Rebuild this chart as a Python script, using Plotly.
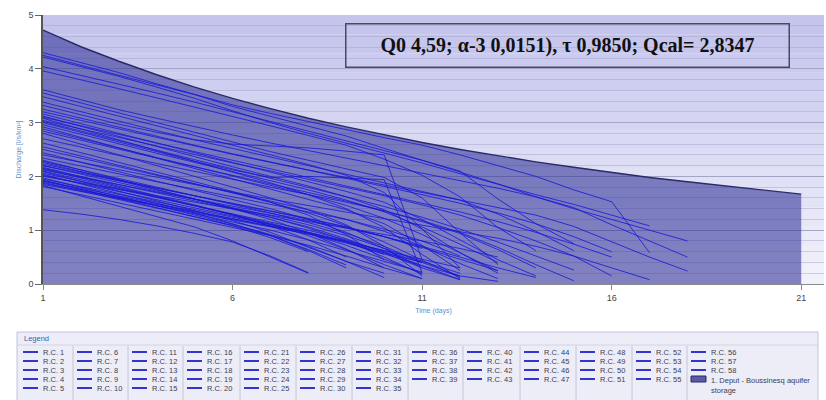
import plotly.graph_objects as go

# ---------------- data ----------------
days = [1, 2, 3, 4, 5, 6, 7, 8, 9, 10, 11, 12, 13, 14, 15, 16, 17, 18, 19, 20, 21]
boussinesq = [4.72, 4.41, 4.14, 3.89, 3.66, 3.45, 3.26, 3.08, 2.92, 2.77, 2.63,
              2.50, 2.38, 2.27, 2.17, 2.07, 1.98, 1.90, 1.82, 1.74, 1.67]

rc01 = [4.30, 4.12, 3.93, 3.72, 3.52, 3.33, 3.17, 3.02, 2.86, 2.72, 2.58, 2.40, 2.20, 2.00, 1.75, 1.53, 0.58]
rc02 = [4.25, 4.06, 3.88, 3.70, 3.52, 3.30, 3.12, 2.93, 2.75, 2.52, 2.30, 2.08, 1.86, 1.62, 1.40, 1.20, 1.00, 0.80]
rc03 = [4.22, 4.04, 3.86, 3.66, 3.45, 3.22, 3.00, 2.80, 2.62, 2.44, 2.25, 2.05, 1.85, 1.66, 1.48, 1.28, 1.08]
rc04 = [4.04, 3.88, 3.72, 3.55, 3.38, 3.20, 3.02, 2.84, 2.66, 2.48, 2.30, 2.10, 1.58, 1.12, 0.75]
rc05 = [3.96, 3.80, 3.63, 3.46, 3.29, 3.12, 2.94, 2.76, 2.58, 2.32, 2.02, 1.62, 1.05, 0.62]
rc06 = [3.61, 3.42, 3.24, 3.08, 2.92, 2.77, 2.62, 2.48, 2.34, 2.20, 2.06, 1.92, 1.78, 1.62, 1.42, 1.10, 0.80, 0.50]
rc07 = [3.55, 3.36, 3.18, 3.00, 2.82, 2.64, 2.46, 2.30, 2.14, 1.98, 1.60, 0.95, 0.36]
rc08 = [3.48, 3.30, 3.12, 2.94, 2.76, 2.58, 2.40, 2.22, 2.02, 1.70, 1.02, 0.30]
rc09 = [3.38, 3.20, 3.02, 2.85, 2.68, 2.52, 2.36, 2.20, 2.04, 1.88, 1.72, 1.56, 1.30, 0.98, 0.62]
rc10 = [3.32, 3.14, 2.97, 2.82, 2.68, 2.60, 2.56, 2.53, 2.47, 2.40, 0.45]
rc11 = [3.20, 3.04, 2.88, 2.72, 2.56, 2.41, 2.26, 2.12, 1.98, 1.84, 1.70, 1.56, 1.42, 1.28, 1.07, 0.78, 0.50, 0.24]
rc12 = [3.16, 2.98, 2.80, 2.62, 2.44, 2.26, 2.08, 1.90, 1.72, 1.52, 1.20, 0.82, 0.45, 0.15]
rc13 = [3.12, 2.93, 2.74, 2.55, 2.36, 2.18, 2.00, 1.82, 1.62, 1.38, 1.02, 0.58, 0.20]
rc14 = [3.08, 2.88, 2.68, 2.48, 2.28, 2.08, 1.88, 1.66, 1.40, 1.05, 0.55, 0.10]
rc15 = [3.04, 2.88, 2.72, 2.56, 2.40, 2.25, 2.10, 1.95, 1.80, 1.64, 1.47, 1.28, 1.05, 0.80, 0.52, 0.15]
rc16 = [3.00, 2.82, 2.64, 2.46, 2.28, 2.12, 1.98, 2.00, 1.97, 1.94, 0.21]
rc17 = [2.96, 2.78, 2.60, 2.43, 2.26, 2.09, 1.92, 1.75, 1.56, 1.34, 1.06, 0.74, 0.40]
rc18 = [2.92, 2.72, 2.53, 2.34, 2.15, 1.96, 1.77, 1.58, 1.38, 1.12, 0.72, 0.25]
rc19 = [2.84, 2.67, 2.50, 2.34, 2.18, 2.02, 1.86, 1.70, 1.54, 1.36, 1.16, 0.94, 0.64, 0.30]
rc20 = [2.80, 2.60, 2.40, 2.20, 2.00, 1.80, 1.60, 1.38, 1.10, 0.70, 0.15]
rc21 = [2.70, 2.54, 2.39, 2.24, 2.09, 1.94, 1.80, 1.66, 1.52, 1.36, 1.18, 0.96, 0.68, 0.36, 0.06]
rc22 = [2.62, 2.44, 2.26, 2.08, 1.90, 1.72, 1.52, 1.28, 0.92, 0.45]
rc23 = [2.55, 2.38, 2.21, 2.04, 1.87, 1.70, 1.52, 1.32, 1.08, 0.78, 0.44, 0.12]
rc24 = [2.50, 2.34, 2.18, 2.02, 1.86, 1.70, 1.54, 1.38, 1.20, 0.98, 0.70, 0.38, 0.10]
rc25 = [2.44, 2.26, 2.08, 1.91, 1.74, 1.57, 1.40, 1.20, 0.96, 0.66, 0.30]
rc26 = [2.40, 2.26, 2.12, 1.98, 1.84, 1.71, 1.58, 1.46, 1.34, 1.22, 1.10, 0.98, 0.85, 0.70, 0.52, 0.30, 0.08]
rc27 = [2.34, 2.19, 2.04, 1.90, 1.76, 1.62, 1.48, 1.34, 1.20, 1.02, 0.80, 0.52]
rc28 = [2.30, 2.12, 1.94, 1.76, 1.58, 1.40, 1.20, 0.95, 0.65, 0.30]
rc29 = [2.26, 2.09, 1.92, 1.75, 1.58, 1.41, 1.24, 1.04, 0.80, 0.50, 0.18]
rc30 = [2.23, 2.08, 1.93, 1.78, 1.63, 1.49, 1.35, 1.21, 1.06, 0.88, 0.68, 0.46, 0.25]
rc31 = [2.20, 2.04, 1.88, 1.72, 1.57, 1.42, 1.27, 1.10, 0.90, 0.66, 0.42, 0.20]
rc32 = [2.17, 1.99, 1.81, 1.64, 1.47, 1.29, 1.08, 0.82, 0.50]
rc33 = [2.14, 1.97, 1.80, 1.63, 1.46, 1.29, 1.11, 0.90, 0.64, 0.36, 0.10]
rc34 = [2.12, 1.98, 1.84, 1.71, 1.58, 1.45, 1.32, 1.18, 1.04, 0.88, 0.70, 0.50, 0.30, 0.12]
rc35 = [2.09, 1.91, 1.73, 1.55, 1.37, 1.18, 0.96, 0.68, 0.42, 0.20]
rc36 = [2.06, 1.91, 1.76, 1.61, 1.46, 1.31, 1.16, 1.00, 0.82, 0.60, 0.34, 0.08]
rc37 = [2.04, 1.86, 1.68, 1.50, 1.32, 1.12, 0.90, 0.64, 0.35]
rc38 = [2.02, 1.87, 1.72, 1.57, 1.42, 1.27, 1.12, 0.96, 0.78, 0.58, 0.40]
rc39 = [2.00, 1.88, 1.76, 1.64, 1.52, 1.40, 1.28, 1.16, 1.04, 0.92, 0.80, 0.66, 0.50]
rc40 = [1.97, 1.80, 1.63, 1.46, 1.29, 1.11, 0.92, 0.70, 0.42, 0.12]
rc41 = [1.95, 1.81, 1.67, 1.53, 1.39, 1.25, 1.11, 0.96, 0.80, 0.62, 0.40, 0.15]
rc42 = [1.93, 1.76, 1.59, 1.42, 1.25, 1.08, 0.86, 0.60]
rc43 = [1.91, 1.76, 1.61, 1.46, 1.31, 1.16, 1.00, 0.82, 0.62, 0.42, 0.22]
rc44 = [1.89, 1.73, 1.57, 1.41, 1.25, 1.09, 0.90, 0.62, 0.30]
rc45 = [1.87, 1.74, 1.61, 1.48, 1.35, 1.22, 1.09, 0.95, 0.78, 0.55]
rc46 = [1.85, 1.72, 1.59, 1.46, 1.33, 1.20, 1.07, 0.93, 0.78, 0.62, 0.46, 0.30]
rc47 = [1.83, 1.64, 1.45, 1.26, 1.06, 0.80, 0.50, 0.20]
rc48 = [1.81, 1.66, 1.51, 1.36, 1.21, 1.06, 0.90, 0.72, 0.52, 0.30, 0.10]
rc49 = [2.28, 2.12, 1.96, 1.80, 1.64, 1.48, 1.32, 1.14, 0.94, 0.70, 0.40]
rc50 = [3.10, 2.94, 2.78, 2.62, 2.46, 2.30, 2.14, 1.98, 1.82, 1.66, 1.50, 1.34, 1.16, 0.96, 0.74, 0.50]
rc51 = [3.02, 2.84, 2.66, 2.48, 2.31, 2.14, 1.97, 1.80, 1.62, 1.44, 1.24, 1.02, 0.78, 0.52, 0.26]
rc52 = [2.88, 2.70, 2.52, 2.35, 2.18, 2.01, 1.84, 1.66, 1.46, 1.22, 0.92, 0.58, 0.24]
rc53 = [2.20, 2.06, 1.92, 1.78, 1.64, 1.50, 1.36, 1.22, 1.06, 0.88, 0.66]
rc54 = [2.15, 2.00, 1.85, 1.70, 1.55, 1.40, 1.24, 1.06, 0.84, 0.58, 0.30, 0.08]
rc55 = [1.92, 1.78, 1.64, 1.50, 1.36, 1.22, 1.08, 0.93, 0.76, 0.56, 0.34, 0.15, 0.05]
rc56 = [3.25, 3.08, 2.91, 2.74, 2.58, 2.42, 2.27, 2.12, 1.97, 1.82, 1.66, 1.50, 1.32, 1.12, 0.88, 0.60]
rc57 = [2.10, 1.94, 1.78, 1.62, 1.46, 1.30, 1.13, 0.94, 0.72, 0.46, 0.20]
rc58 = [1.38, 1.30, 1.20, 1.08, 0.94, 0.78, 0.52, 0.21]

rc_series = [rc01, rc02, rc03, rc04, rc05, rc06, rc07, rc08, rc09, rc10,
             rc11, rc12, rc13, rc14, rc15, rc16, rc17, rc18, rc19, rc20,
             rc21, rc22, rc23, rc24, rc25, rc26, rc27, rc28, rc29, rc30,
             rc31, rc32, rc33, rc34, rc35, rc36, rc37, rc38, rc39, rc40,
             rc41, rc42, rc43, rc44, rc45, rc46, rc47, rc48, rc49, rc50,
             rc51, rc52, rc53, rc54, rc55, rc56, rc57, rc58]
rc_names = ["R.C. %d" % i for i in range(1, 59)]
storage_name = "1. Deput - Boussinesq aquifer storage"
storage_label = "1. Deput - Boussinesq aquifer<br>storage"
x_ticks = [1, 6, 11, 16, 21]
y_ticks = [0, 1, 2, 3, 4, 5]
x_title = "Time (days)"
y_title = "Discharge [l/s/km²]"
fit_text = "Q0 4,59; α-3 0,0151), τ 0,9850; Qcal= 2,8347"
legend_title = "Legend"
# legend columns (indices into rc_names; None = storage entry)
legend_columns = [
    [0, 1, 2, 3, 4], [5, 6, 7, 8, 9], [10, 11, 12, 13, 14], [15, 16, 17, 18, 19],
    [20, 21, 22, 23, 24], [25, 26, 27, 28, 29], [30, 31, 32, 33, 34],
    [35, 36, 37, 38], [39, 40, 41, 42], [43, 44, 45, 46], [47, 48, 49, 50],
    [51, 52, 53, 54], [55, 56, 57, None],
]

# ---------------- layout geometry ----------------
W, H = 826, 400
ML, MR, MT, MB = 43, 2, 15, 116
PW, PH = W - ML - MR, H - MT - MB


def px(x):
    return (x - ML) / PW


def py(y):
    return (H - MB - y) / PH


fig = go.Figure()

fig.add_trace(go.Scatter(
    x=days, y=boussinesq, mode="lines", fill="tozeroy",
    fillcolor="rgba(48,48,152,0.58)",
    line=dict(color="#2a2a66", width=1.4),
    name=storage_name, showlegend=False, hoverinfo="skip"))

for name, vals in zip(rc_names, rc_series):
    fig.add_trace(go.Scatter(
        x=days[:len(vals)], y=vals, mode="lines",
        line=dict(color="rgba(22,22,215,0.8)", width=1),
        name=name, showlegend=False))

shapes = []
annotations = []

# background gradient bands (plot area)
nb = 14
c0 = (196, 196, 237)
c1 = (241, 241, 251)
for i in range(nb):
    f = i / (nb - 1)
    col = tuple(int(round(c0[k] + (c1[k] - c0[k]) * f)) for k in range(3))
    shapes.append(dict(type="rect", xref="x domain", yref="y domain",
                       x0=0, x1=1, y0=1 - (i + 1) / nb, y1=1 - i / nb,
                       fillcolor="rgb(%d,%d,%d)" % col, line=dict(width=0),
                       layer="below"))

# fit result box
annotations.append(dict(
    text="<b>" + fit_text + "</b>", xref="paper", yref="paper",
    x=px(567), y=py(45), xanchor="center", yanchor="middle",
    showarrow=False, width=440, height=40, borderpad=1, borderwidth=1.5,
    bordercolor="#4a4a5a",
    font=dict(family="Times New Roman, Liberation Serif, serif", size=20, color="#111111")))

# legend panel
LB_L, LB_R, LB_T, LB_B = 17, 818, 332, 403
LFONT = dict(family="Arial, Liberation Sans, sans-serif", size=7.5, color="#404050")
shapes.append(dict(type="rect", xref="paper", yref="paper",
                   x0=px(LB_L), x1=px(LB_R), y0=py(LB_B), y1=py(LB_T),
                   fillcolor="#ededf8", line=dict(color="#c2c2de", width=1)))
shapes.append(dict(type="line", xref="paper", yref="paper",
                   x0=px(LB_L), x1=px(LB_R), y0=py(345), y1=py(345),
                   line=dict(color="#d2d2e6", width=1)))
annotations.append(dict(text=legend_title, xref="paper", yref="paper",
                        x=px(22), y=py(339), xanchor="left", yanchor="middle",
                        showarrow=False,
                        font=dict(family="Arial, Liberation Sans, sans-serif", size=7.5, color="#3a5fb0")))

col_left = [19, 73, 128, 183, 240, 296, 352, 408, 463, 520, 576, 632, 687]
row_y = [352, 361, 370, 379, 388]
for c, left in enumerate(col_left):
    if c > 0:
        shapes.append(dict(type="line", xref="paper", yref="paper",
                           x0=px(left), x1=px(left), y0=py(LB_B), y1=py(346),
                           line=dict(color="#c4c4da", width=1)))
    for r, idx in enumerate(legend_columns[c]):
        yy = row_y[r]
        if idx is None:
            shapes.append(dict(type="rect", xref="paper", yref="paper",
                               x0=px(left + 4), x1=px(left + 19),
                               y0=py(yy + 3), y1=py(yy - 3),
                               fillcolor="#5a5aa8", line=dict(color="#2a2a70", width=1)))
            annotations.append(dict(text=storage_label, xref="paper", yref="paper",
                                    x=px(left + 22), y=py(yy - 5), xanchor="left",
                                    yanchor="top", align="left", showarrow=False,
                                    font=LFONT))
        else:
            shapes.append(dict(type="line", xref="paper", yref="paper",
                               x0=px(left + 4), x1=px(left + 19), y0=py(yy), y1=py(yy),
                               line=dict(color="#3535cc", width=2)))
            annotations.append(dict(text=rc_names[idx], xref="paper", yref="paper",
                                    x=px(left + 22), y=py(yy), xanchor="left",
                                    yanchor="middle", showarrow=False, font=LFONT))

fig.update_layout(
    width=W, height=H,
    margin=dict(l=ML, r=MR, t=MT, b=MB, pad=0),
    paper_bgcolor="white", plot_bgcolor="#f0f0fb",
    showlegend=False,
    shapes=shapes, annotations=annotations,
    font=dict(family="Arial, Liberation Sans, sans-serif", size=9, color="#444444"),
    xaxis=dict(range=[1, 21.6], tickvals=x_ticks, showgrid=False, zeroline=False,
               showline=True, linecolor="#8a8a8a", linewidth=1,
               ticks="outside", ticklen=5, tickcolor="#8a8a8a",
               tickfont=dict(size=9, color="#444444"),
               title=dict(text=x_title, font=dict(size=7, color="#5b8fd0"), standoff=6)),
    yaxis=dict(range=[0, 5], tickvals=y_ticks, showgrid=True, gridcolor="#a4a4c4",
               gridwidth=1, zeroline=False,
               showline=True, linecolor="#555555", linewidth=1.5,
               ticks="outside", ticklen=6, tickcolor="#666666",
               tickfont=dict(size=9, color="#444444"),
               minor=dict(dtick=0.2, showgrid=True, gridcolor="rgba(160,160,200,0.45)",
                          gridwidth=1),
               title=dict(text=y_title, font=dict(size=7, color="#5b8fd0"), standoff=6)),
)

fig.write_html("out.html", config={"displayModeBar": False},
               post_script="document.body.style.margin='0';document.body.style.overflow='hidden';")
